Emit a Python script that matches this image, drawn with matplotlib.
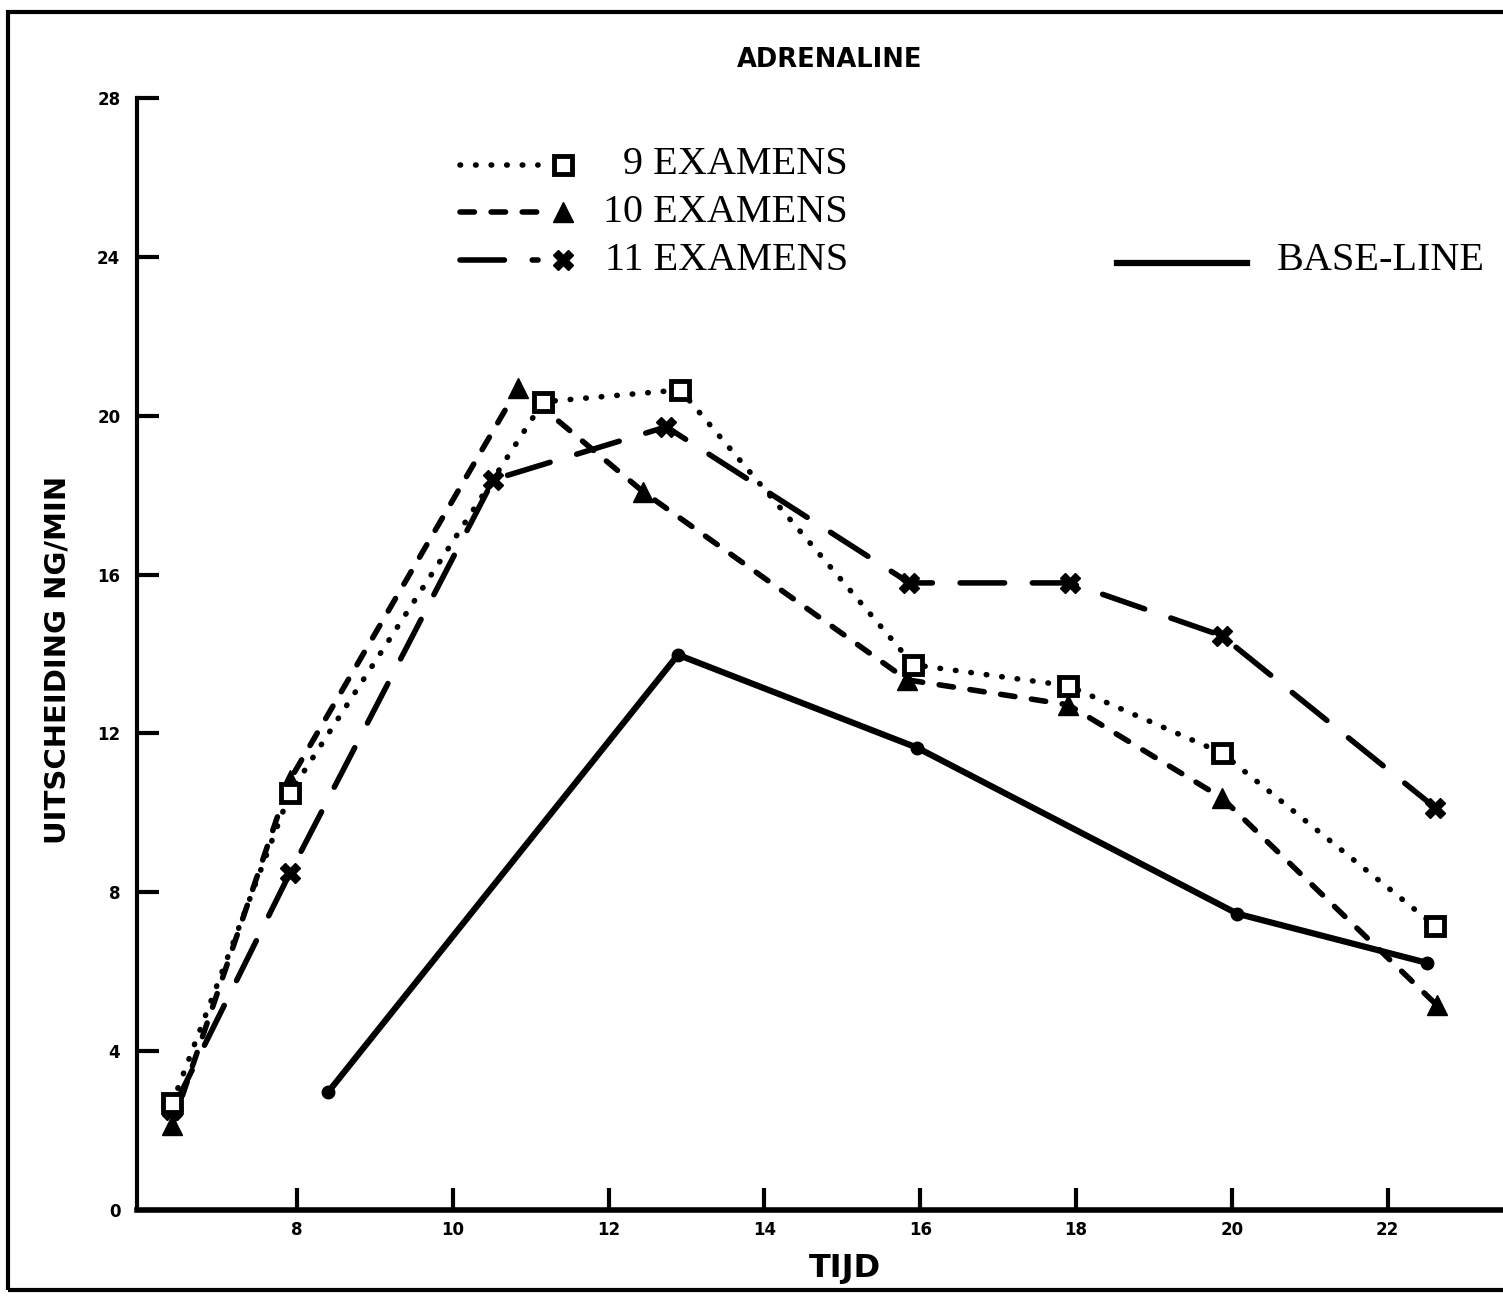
import matplotlib
matplotlib.use("Agg")
import matplotlib.pyplot as plt
from matplotlib.lines import Line2D
from matplotlib.patches import Rectangle

# --- data ---
x9 = [6.40, 7.91, 11.16, 12.92, 15.91, 17.90, 19.87, 22.61]
y9 = [2.70, 10.50, 20.35, 20.65, 13.73, 13.20, 11.51, 7.15]

x10 = [6.40, 7.91, 10.84, 12.44, 15.83, 17.90, 19.87, 22.63]
y10 = [2.14, 10.83, 20.71, 18.09, 13.35, 12.72, 10.38, 5.16]

x11 = [6.40, 7.91, 10.52, 12.74, 15.86, 17.92, 19.87, 22.61]
y11 = [2.52, 8.49, 18.39, 19.72, 15.79, 15.79, 14.46, 10.13]

xb = [8.40, 12.89, 15.96, 20.07, 22.51]
yb = [2.97, 13.98, 11.64, 7.46, 6.22]

xticks = [8, 10, 12, 14, 16, 18, 20, 22]
yticks = [0, 4, 8, 12, 16, 20, 24, 28]
legend_labels = ["9 EXAMENS", "10 EXAMENS", "11 EXAMENS"]

W, H = 1503, 1297
fig = plt.figure(figsize=(W / 100, H / 100), dpi=100)

def fx(px):
    return px / W

def fy(py):
    return 1 - py / H

ax = fig.add_axes([fx(137), fy(1210), 1 - fx(137), fy(98) - fy(1210)])
ax.set_xlim(5.946, 23.48)
ax.set_ylim(0, 28)

stijl9 = dict(color="black", lw=4, linestyle=(0, (0.1, 2.7)), dash_capstyle="round",
              marker="s", ms=13, mfc="white", mec="black", mew=3.5)
stijl10 = dict(color="black", lw=4, linestyle=(0, (2.6, 3.0)), dash_capstyle="round",
               marker="^", ms=14, mfc="black", mec="black")
stijl11 = dict(color="black", lw=4, linestyle=(0, (8, 5)), dash_capstyle="round",
               marker="X", ms=14, mfc="black", mec="black")
stijlb = dict(color="black", lw=4.5, linestyle="-", marker="o", ms=9,
              mfc="black", mec="black")

ax.plot(xb, yb, **stijlb)
ax.plot(x11, y11, **stijl11)
ax.plot(x10, y10, **stijl10)
ax.plot(x9, y9, **stijl9)

for s in ["top", "right"]:
    ax.spines[s].set_visible(False)
ax.spines["left"].set_linewidth(3)
ax.spines["bottom"].set_linewidth(4)
ax.set_xticks(xticks)
ax.set_yticks(yticks)
ax.tick_params(axis="both", direction="in", length=16, width=3,
               labelsize=12)
ax.tick_params(axis="x", pad=8)
ax.tick_params(axis="y", pad=12)
for lab in ax.get_xticklabels() + ax.get_yticklabels():
    lab.set_fontweight("bold")

fig.text(fx(58), fy(660), "UITSCHEIDING NG/MIN", rotation=90, ha="center",
         va="center", fontsize=21, fontweight="bold")
fig.text(fx(845), fy(1268), "TIJD", ha="center", va="center", fontsize=23,
         fontweight="bold")
fig.text(fx(830), fy(60), "ADRENALINE", ha="center", va="center", fontsize=18.5,
         fontweight="bold")

# legenda
rijen = [165, 212, 260]
for rij, stijl, label in zip(rijen, [stijl9, stijl10, stijl11], legend_labels):
    lijn = {k: v for k, v in stijl.items() if not k.startswith("m")}
    fig.add_artist(Line2D([fx(460), fx(538)], [fy(rij), fy(rij)],
                          transform=fig.transFigure, **lijn))
    mark = {k: v for k, v in stijl.items() if k.startswith("m")}
    fig.add_artist(Line2D([fx(563)], [fy(rij)], transform=fig.transFigure,
                          linestyle="none", **mark))
    fig.text(fx(848), fy(rij), label, ha="right", va="center", fontsize=29,
             family="Liberation Serif")

fig.add_artist(Line2D([fx(1117), fx(1247)], [fy(263), fy(263)],
                      transform=fig.transFigure, color="black", lw=4.5))
fig.text(fx(1485), fy(261), "BASE-LINE", ha="right", va="center", fontsize=29,
         family="Liberation Serif")

# kader rond de figuur
fig.add_artist(Rectangle((fx(8), fy(1290)), 1.1, fy(12) - fy(1290),
                         transform=fig.transFigure, fill=False, lw=3,
                         edgecolor="black"))

fig.savefig("out.png", dpi=100)
